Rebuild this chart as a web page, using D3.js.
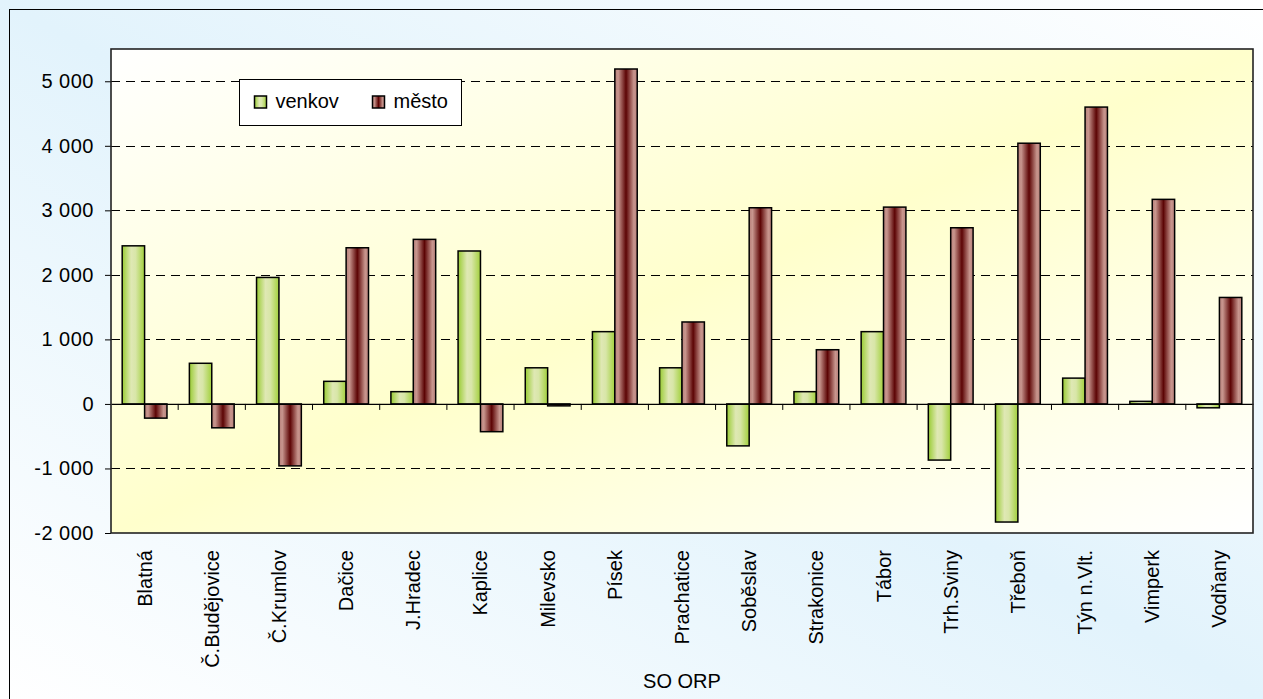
<!DOCTYPE html>
<html>
<head>
<meta charset="utf-8">
<script src="https://cdn.jsdelivr.net/npm/d3@7"></script>
<style>
  html, body { margin: 0; padding: 0; background: #ffffff; }
  svg { display: block; font-family: "Liberation Sans", Arial, sans-serif; }
</style>
</head>
<body>
<svg id="chart" width="1263" height="699"></svg>
<script>
const categories = ["Blatná","Č.Budějovice","Č.Krumlov","Dačice","J.Hradec","Kaplice","Milevsko","Písek","Prachatice","Soběslav","Strakonice","Tábor","Trh.Sviny","Třeboň","Týn n.Vlt.","Vimperk","Vodňany"];
const venkov = [2450, 630, 1960, 350, 190, 2370, 560, 1120, 560, -650, 190, 1120, -870, -1830, 400, 40, -60];
const mesto  = [-220, -370, -960, 2420, 2550, -430, -30, 5190, 1270, 3040, 840, 3050, 2730, 4040, 4600, 3170, 1650];
const seriesNames = ["venkov", "město"];
const yTicks = [-2000, -1000, 0, 1000, 2000, 3000, 4000, 5000];
const yDomain = [-2000, 5500];
const xTitle = "SO ORP";

const svg = d3.select("#chart");
const W = 1263, H = 699;
const plot = {left: 111, top: 49, right: 1253, bottom: 533};

const defs = svg.append("defs");
function lin(id, x1, y1, x2, y2, stops) {
  const g = defs.append("linearGradient").attr("id", id)
    .attr("x1", x1).attr("y1", y1).attr("x2", x2).attr("y2", y2);
  stops.forEach(s => g.append("stop").attr("offset", s[0]).attr("stop-color", s[1]));
}
lin("bgGrad", 0, 1, 1, 0, [[0, "#ffffff"], [0.5, "#e2f3fc"], [1, "#ffffff"]]);
lin("plotGrad", 0, 0, 1, 1, [[0, "#ffffff"], [0.5, "#ffffcc"], [1, "#ffffff"]]);
lin("greenGrad", 0, 0, 1, 0, [[0, "#99cc33"], [0.4, "#dfe8b4"], [0.6, "#d8e6a8"], [1, "#a2d03c"]]);
lin("redGrad", 0, 0, 1, 0, [[0, "#b8807a"], [0.15, "#c8968e"], [0.5, "#5c0404"], [0.85, "#c8968e"], [1, "#b8807a"]]);

// outer background
svg.append("rect").attr("x", 0).attr("y", 0).attr("width", W).attr("height", H).attr("fill", "url(#bgGrad)");
svg.append("rect").attr("x", 9.5).attr("y", 9.5).attr("width", W + 20).attr("height", H + 20)
  .attr("fill", "none").attr("stroke", "#000").attr("stroke-width", 1);

// plot area
svg.append("rect").attr("x", plot.left).attr("y", plot.top)
  .attr("width", plot.right - plot.left).attr("height", plot.bottom - plot.top)
  .attr("fill", "url(#plotGrad)");

const x = d3.scaleBand().domain(categories).range([plot.left, plot.right]).paddingInner(0).paddingOuter(0);
const y = d3.scaleLinear().domain(yDomain).range([plot.bottom, plot.top]);
const bw = x.bandwidth() / 3;
const xs = d3.scaleBand().domain(seriesNames).range([0, 2 * bw]);

const loc = d3.formatLocale({decimal: ",", thousands: " ", grouping: [3], currency: ["", ""], minus: "-"});
const fmt = loc.format(",d");

// gridlines
svg.append("g").selectAll("line").data(yTicks.filter(t => t !== 0 && t !== yDomain[0])).join("line")
  .attr("x1", plot.left).attr("x2", plot.right)
  .attr("y1", d => Math.round(y(d)) + 0.5).attr("y2", d => Math.round(y(d)) + 0.5)
  .attr("stroke", "#000").attr("stroke-width", 1).attr("stroke-dasharray", "9,6");

// y axis
const yAxis = d3.axisLeft(y).tickValues(yTicks).tickSize(6).tickPadding(11).tickFormat(fmt);
const gy = svg.append("g").attr("transform", `translate(${plot.left},0)`).call(yAxis);
gy.select(".domain").remove();
gy.selectAll(".tick line").attr("stroke", "#000");
gy.selectAll(".tick text").attr("font-size", 20).attr("fill", "#000")
  .attr("font-family", "Liberation Sans, Arial, sans-serif").attr("letter-spacing", 0.5);

// bars
const data = categories.map((c, i) => ({c, vals: [venkov[i], mesto[i]]}));
const groups = svg.append("g").selectAll("g").data(data).join("g")
  .attr("transform", d => `translate(${x(d.c) + bw / 2},0)`);
groups.selectAll("rect").data(d => d.vals.map((v, k) => ({v, s: seriesNames[k]}))).join("rect")
  .attr("x", d => xs(d.s))
  .attr("width", xs.bandwidth())
  .attr("y", d => y(Math.max(0, d.v)))
  .attr("height", d => Math.max(1, Math.abs(y(d.v) - y(0))))
  .attr("fill", d => d.s === "venkov" ? "url(#greenGrad)" : "url(#redGrad)")
  .attr("stroke", "#000").attr("stroke-width", 1.5);

// x axis at zero
const xAxis = d3.axisBottom(x).tickSize(0).tickFormat("");
const gx = svg.append("g").attr("transform", `translate(0,${y(0)})`).call(xAxis);
gx.select(".domain").attr("stroke", "#000").attr("stroke-width", 1.2);
// boundary ticks
svg.append("g").selectAll("line").data(categories.slice(1)).join("line")
  .attr("x1", d => x(d)).attr("x2", d => x(d))
  .attr("y1", y(0)).attr("y2", y(0) + 6)
  .attr("stroke", "#000");

// category labels
svg.append("g").selectAll("text").data(categories).join("text")
  .attr("transform", d => `translate(${x(d) + x.bandwidth() / 2 + 7},550) rotate(-90)`)
  .attr("text-anchor", "end")
  .attr("font-size", 20).attr("fill", "#000")
  .text(d => d);

// x title
svg.append("text").attr("x", (plot.left + plot.right) / 2).attr("y", 688)
  .attr("text-anchor", "middle").attr("font-size", 20).attr("fill", "#000").text(xTitle);

// plot border
svg.append("rect").attr("x", plot.left).attr("y", plot.top)
  .attr("width", plot.right - plot.left).attr("height", plot.bottom - plot.top)
  .attr("fill", "none").attr("stroke", "#222").attr("stroke-width", 1.6);

// legend
const lg = svg.append("g").attr("transform", "translate(239.5,79.5)");
lg.append("rect").attr("width", 222).attr("height", 46).attr("fill", "#fff").attr("stroke", "#000").attr("stroke-width", 1);
const items = [{name: seriesNames[0], x: 15, fill: "url(#greenGrad)"}, {name: seriesNames[1], x: 133, fill: "url(#redGrad)"}];
const li = lg.selectAll("g.item").data(items).join("g").attr("class", "item")
  .attr("transform", d => `translate(${d.x},0)`);
li.append("rect").attr("x", 0).attr("y", 16.5).attr("width", 12).attr("height", 12)
  .attr("fill", d => d.fill).attr("stroke", "#000").attr("stroke-width", 1.5);
li.append("text").attr("x", 21).attr("y", 28).attr("font-size", 20).attr("fill", "#000").text(d => d.name);
</script>
</body>
</html>
